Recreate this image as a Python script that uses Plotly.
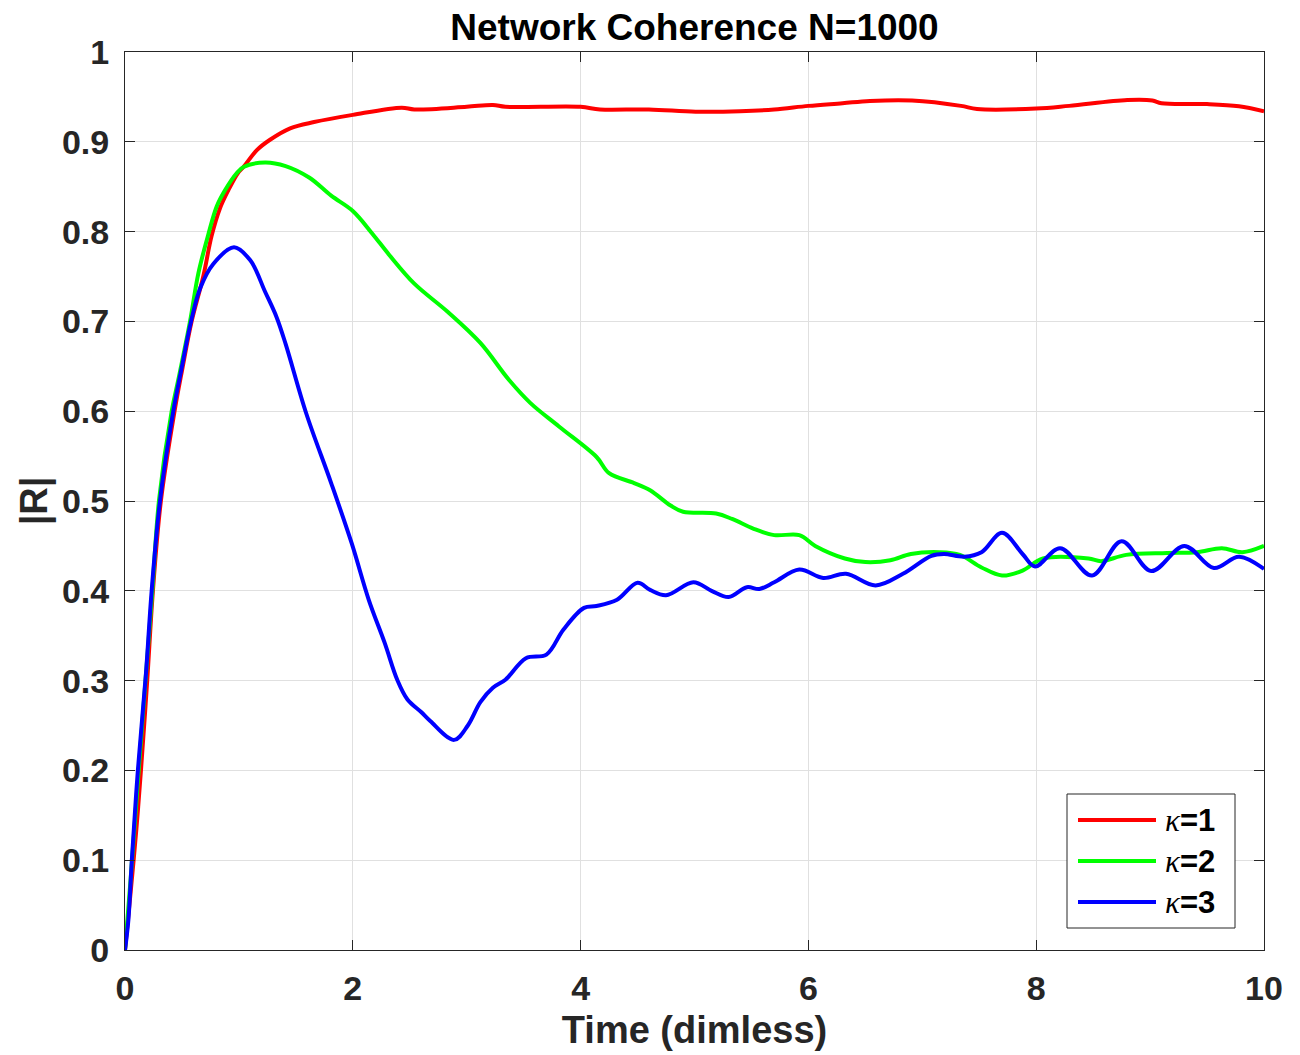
import plotly.graph_objects as go

# |R| order parameter over time for three coupling values
t_k1 = [0, 0.05, 0.1, 0.14, 0.195, 0.245, 0.315, 0.435, 0.5, 0.585, 0.687, 0.76, 0.834,
        0.907, 0.99, 1.04, 1.16, 1.27, 1.45, 1.66, 2.0, 2.43, 2.54, 3.0, 3.23, 3.34,
        4.0, 4.17, 4.6, 5.01, 5.4, 5.7, 6.0, 6.3, 6.54, 6.91, 7.34, 7.48, 8.0, 8.29,
        8.8, 9.02, 9.1, 9.5, 9.78, 10.0]
r_k1 = [0, 0.065, 0.135, 0.2, 0.3, 0.4, 0.5, 0.6, 0.645, 0.7, 0.75, 0.795, 0.826,
        0.846, 0.865, 0.872, 0.891, 0.902, 0.915, 0.922, 0.930, 0.938, 0.936, 0.939,
        0.941, 0.939, 0.939, 0.936, 0.936, 0.9335, 0.934, 0.936, 0.940, 0.943, 0.9455,
        0.946, 0.940, 0.9365, 0.937, 0.940, 0.9465, 0.946, 0.943, 0.942, 0.9395, 0.934]

t_k2 = [0, 0.05, 0.12, 0.18, 0.24, 0.298, 0.41, 0.468, 0.571, 0.644, 0.732, 0.805,
        0.878, 0.98, 1.04, 1.23, 1.41, 1.62, 1.81, 2.0, 2.17, 2.32, 2.54, 2.83, 3.12,
        3.37, 3.56, 3.81, 4.14, 4.25, 4.47, 4.61, 4.79, 4.90, 5.19, 5.33, 5.52, 5.70,
        5.92, 6.06, 6.32, 6.50, 6.72, 6.9, 7.15, 7.33, 7.52, 7.70, 7.88, 8.06, 8.46,
        8.57, 8.79, 9.15, 9.41, 9.63, 9.81, 10.0]
r_k2 = [0, 0.08, 0.2, 0.3, 0.4, 0.5, 0.6, 0.635, 0.7, 0.7535, 0.797, 0.828, 0.846,
        0.865, 0.872, 0.877, 0.873, 0.860, 0.840, 0.823, 0.798, 0.774, 0.742, 0.711,
        0.676, 0.635, 0.609, 0.583, 0.549, 0.531, 0.520, 0.512, 0.495, 0.488, 0.486,
        0.480, 0.469, 0.462, 0.462, 0.450, 0.436, 0.432, 0.434, 0.441, 0.443, 0.440,
        0.426, 0.417, 0.4225, 0.436, 0.436, 0.433, 0.440, 0.442, 0.443, 0.4475, 0.443,
        0.450]

t_k3 = [0, 0.03, 0.06, 0.113, 0.184, 0.234, 0.307, 0.424, 0.50, 0.58, 0.66, 0.775,
        0.957, 1.10, 1.23, 1.33, 1.41, 1.59, 1.81, 1.99, 2.14, 2.28, 2.39, 2.48, 2.6,
        2.68, 2.89, 3.01, 3.12, 3.23, 3.34, 3.52, 3.70, 3.85, 4.03, 4.14, 4.32, 4.50,
        4.61, 4.75, 4.99, 5.15, 5.30, 5.46, 5.57, 5.70, 5.92, 6.13, 6.33, 6.59, 6.83,
        7.08, 7.19, 7.37, 7.52, 7.70, 7.88, 7.99, 8.21, 8.49, 8.75, 9.01, 9.30, 9.56,
        9.78, 10.0]
r_k3 = [0, 0.034, 0.1, 0.2, 0.308, 0.4, 0.5, 0.6, 0.65, 0.7, 0.737, 0.764, 0.7825,
        0.768, 0.733, 0.705, 0.675, 0.598, 0.520, 0.453, 0.390, 0.342, 0.301, 0.279,
        0.265, 0.255, 0.234, 0.250, 0.276, 0.292, 0.301, 0.325, 0.329, 0.357, 0.381,
        0.383, 0.390, 0.409, 0.401, 0.395, 0.4095, 0.400, 0.393, 0.404, 0.402, 0.4095,
        0.4236, 0.4143, 0.419, 0.406, 0.419, 0.439, 0.441, 0.438, 0.443, 0.4646,
        0.441, 0.427, 0.4475, 0.417, 0.4553, 0.422, 0.450, 0.4255, 0.438, 0.4244]

series_names = ["κ=1", "κ=2", "κ=3"]
kappa_values = ["1", "2", "3"]
series_colors = ["#ff0000", "#00ff00", "#0000ff"]

x_ticks = [0, 2, 4, 6, 8, 10]
y_ticks = [0, 0.1, 0.2, 0.3, 0.4, 0.5, 0.6, 0.7, 0.8, 0.9, 1.0]
y_tick_text = ["0", "0.1", "0.2", "0.3", "0.4", "0.5", "0.6", "0.7", "0.8", "0.9", "1"]

W, H = 1300, 1055
L, R, T, B = 125, 36, 52, 105
FONT = "Liberation Sans, Arial, Helvetica, sans-serif"
INK = "#262626"

fig = go.Figure()
for tx, ry, name, col in zip([t_k1, t_k2, t_k3], [r_k1, r_k2, r_k3],
                             series_names, series_colors):
    fig.add_trace(go.Scatter(x=tx, y=ry, mode="lines", name=name, showlegend=False,
                             line=dict(color=col, width=4, shape="spline", smoothing=1.0)))


def px(x):
    return (x - L) / (W - L - R)


def py(y):
    return (H - B - y) / (H - T - B)


# legend box drawn in paper space (lower right corner of the axes)
shapes = [dict(type="rect", xref="paper", yref="paper",
               x0=px(1067), x1=px(1235), y0=py(928), y1=py(794),
               line=dict(color=INK, width=1), fillcolor="white", layer="above")]
annotations = []
for i, (kv, col) in enumerate(zip(kappa_values, series_colors)):
    yy = py(820 + 41 * i)
    shapes.append(dict(type="line", xref="paper", yref="paper",
                       x0=px(1078), x1=px(1156), y0=yy, y1=yy,
                       line=dict(color=col, width=4), layer="above"))
    label = ("<span style=\"font-family:'Liberation Serif', serif\"><i>κ</i></span>"
             "<b>=" + kv + "</b>")
    annotations.append(dict(xref="paper", yref="paper", x=px(1163), y=yy,
                            xanchor="left", yanchor="middle", showarrow=False,
                            text=label, font=dict(family=FONT, size=31, color="black")))

axis_common = dict(showline=True, linecolor=INK, linewidth=1, mirror="ticks",
                   ticks="inside", ticklen=10, tickcolor=INK, tickwidth=1,
                   ticklabelstandoff=8,
                   showgrid=True, gridcolor="#e0e0e0", gridwidth=1, zeroline=False,
                   tickfont=dict(family=FONT, size=34, color=INK, weight="bold"))

fig.update_layout(
    width=W, height=H,
    margin=dict(l=L, r=R, t=T, b=B),
    paper_bgcolor="white", plot_bgcolor="white",
    title=dict(text="Network Coherence N=1000", x=0.5, xref="paper", xanchor="center",
               y=1 - 27 / H, yanchor="middle",
               font=dict(family=FONT, size=37, color="black", weight="bold")),
    xaxis=dict(range=[0, 10], tickvals=x_ticks, ticktext=[str(v) for v in x_ticks],
               title=dict(text="Time (dimless)", standoff=10,
                          font=dict(family=FONT, size=38, color=INK, weight="bold")),
               **axis_common),
    yaxis=dict(range=[0, 1], tickvals=y_ticks, ticktext=y_tick_text,
               title=dict(text="|R|", standoff=2,
                          font=dict(family=FONT, size=38, color=INK, weight="bold")),
               **axis_common),
    shapes=shapes,
    annotations=annotations,
)

fig.write_html("out.html")
